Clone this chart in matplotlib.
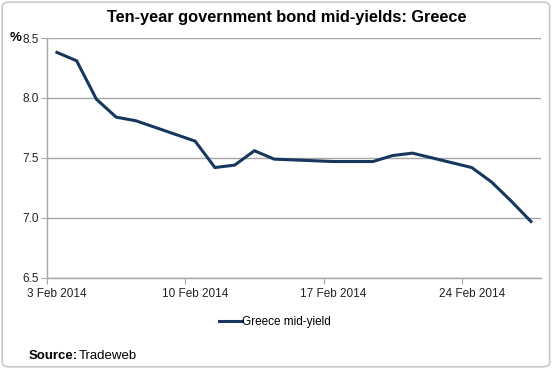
import datetime as dt
import matplotlib
matplotlib.use('Agg')
import matplotlib.pyplot as plt
from matplotlib.patches import FancyBboxPatch

plt.rcParams['font.family'] = ['Liberation Sans', 'DejaVu Sans']

TITLE = "Ten-year government bond mid-yields: Greece"
SERIES_NAME = "Greece mid-yield"
LINE_COLOR = '#17375E'
GRID_COLOR = '#a6a6a6'

days = [3, 4, 5, 6, 7, 10, 11, 12, 13, 14, 17, 18, 19, 20, 21, 24, 25, 26, 27]
yields = [8.38, 8.31, 7.99, 7.84, 7.81, 7.64, 7.42, 7.44, 7.56, 7.49,
          7.47, 7.47, 7.47, 7.52, 7.54, 7.42, 7.30, 7.14, 6.97]
tick_days = [3, 10, 17, 24]
tick_labels = ["3 Feb 2014", "10 Feb 2014", "17 Feb 2014", "24 Feb 2014"]
y_ticks = [6.5, 7.0, 7.5, 8.0, 8.5]

# points sit in the middle of each day slot, like an Excel date axis
dates = [dt.datetime(2014, 2, d, 12) for d in days]

fig = plt.figure(figsize=(5.53, 3.69), dpi=100)
ax = fig.add_axes([0.085, 0.247, 0.893, 0.650])

ax.plot(dates, yields, color=LINE_COLOR, lw=2.2, label=SERIES_NAME,
        solid_joinstyle='miter')

ax.set_xlim(dt.datetime(2014, 2, 3), dt.datetime(2014, 2, 28))
ax.set_ylim(6.5, 8.5)
ax.set_yticks(y_ticks)
ax.set_yticklabels([f"{v:.1f}" for v in y_ticks])
ax.yaxis.grid(True, color=GRID_COLOR, lw=1)
ax.set_axisbelow(True)

# tick marks at slot edges, labels centred on the day slot
ax.set_xticks([dt.datetime(2014, 2, d) for d in tick_days])
ax.set_xticklabels([])
ax.set_xticks([dt.datetime(2014, 2, d, 12) for d in tick_days], minor=True)
ax.set_xticklabels(tick_labels, minor=True)
ax.tick_params(axis='x', which='major', length=4, color=GRID_COLOR, direction='out')
ax.tick_params(axis='x', which='minor', length=0, labelsize=8.5, colors='#222222', pad=7.5)
ax.tick_params(axis='y', length=4, color=GRID_COLOR, labelsize=8.5, colors='#222222', pad=2)

for s in ['top', 'right']:
    ax.spines[s].set_visible(False)
for s in ['left', 'bottom']:
    ax.spines[s].set_color(GRID_COLOR)
    ax.spines[s].set_linewidth(1)

fig.text(0.518, 0.953, TITLE, ha='center', va='center', fontsize=11.8, fontweight='bold')
fig.text(0.018, 0.897, "%", ha='left', va='center', fontsize=9.5, fontweight='bold')

leg = fig.legend(loc='center', bbox_to_anchor=(0.497, 0.127), frameon=False,
                 fontsize=8.5, handlelength=2.0, handletextpad=0.0)

fig.text(0.051, 0.035, "Source:", ha='left', va='center', fontsize=9.5, fontweight='bold')
fig.text(0.143, 0.035, "Tradeweb", ha='left', va='center', fontsize=9.5)

border = FancyBboxPatch((0.004, 0.006), 0.99, 0.988, boxstyle="round,pad=0,rounding_size=0.012",
                        transform=fig.transFigure, fill=False, edgecolor='#c8c8c8', lw=1.2)
fig.patches.append(border)

fig.savefig('out.png', dpi=100)
